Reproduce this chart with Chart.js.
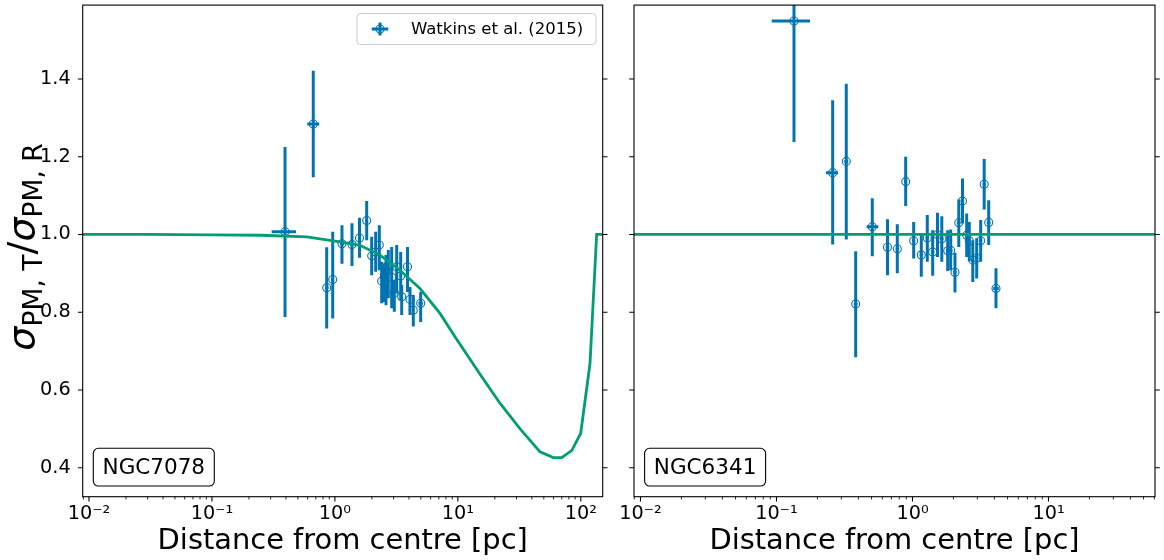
<!DOCTYPE html>
<html>
<head>
<meta charset="utf-8">
<script src="https://cdn.jsdelivr.net/npm/chart.js@4.4.1/dist/chart.umd.min.js"></script>
<style>
html,body{margin:0;padding:0;background:#ffffff;}
#wrap{position:relative;width:1164px;height:560px;overflow:hidden;background:#fff;}
#a{position:absolute;left:0;top:0;}
#b{position:absolute;left:620px;top:0;}
</style>
</head>
<body>
<div id="wrap">
<canvas id="a" width="620" height="560"></canvas>
<canvas id="b" width="544" height="560"></canvas>
</div>
<script>
const BLUE = '#0173b2', GREEN = '#029e73';
const FONT = '"DejaVu Sans", "Liberation Sans", sans-serif';

// ---- tick labels ----
const xMajorExp = [-2, -1, 0, 1, 2];
const xTickLabels = ['10\u207b\u00b2', '10\u207b\u00b9', '10\u2070', '10\u00b9', '10\u00b2'];
const yTicks = [0.4, 0.6, 0.8, 1.0, 1.2, 1.4];
const yTickLabels = ['0.4', '0.6', '0.8', '1.0', '1.2', '1.4'];
const xTitle = 'Distance from centre [pc]';
const legendLabel = 'Watkins et al. (2015)';

// ---- NGC7078 (left) : Watkins et al. (2015) points ----
const r7078   = [0.393,0.667,0.858,0.960,1.142,1.377,1.585,1.814,1.992,2.147,2.297,2.402,2.532,2.604,2.719,2.897,3.042,3.182,3.429,3.494,3.895,4.080,4.342,4.987];
const r7078Lo = [0.306,0.596,0.830,0.930,1.100,1.330,1.540,1.760,1.940,2.090,2.240,2.340,2.470,2.540,2.650,2.830,2.970,3.100,3.350,3.410,3.800,3.980,4.240,4.780];
const r7078Hi = [0.483,0.746,0.890,0.990,1.190,1.420,1.630,1.870,2.050,2.210,2.360,2.470,2.600,2.670,2.790,2.970,3.120,3.260,3.510,3.580,3.990,4.180,4.450,5.200];
const s7078   = [1.007,1.284,0.863,0.884,0.976,0.974,0.991,1.036,0.945,0.955,0.973,0.880,0.893,0.908,0.921,0.890,0.850,0.917,0.893,0.840,0.917,0.833,0.805,0.823];
const s7078Hi = [1.225,1.421,0.967,1.007,1.024,1.029,1.043,1.086,0.994,1.007,1.024,0.930,0.926,0.947,0.960,0.968,0.883,0.973,0.955,0.870,0.968,0.865,0.844,0.852];
const s7078Lo = [0.788,1.147,0.758,0.784,0.925,0.919,0.940,0.985,0.895,0.904,0.908,0.823,0.826,0.818,0.836,0.810,0.801,0.848,0.831,0.793,0.852,0.793,0.763,0.775];
// model curve NGC7078
const modelR7078 = [0.0085,0.03,0.1,0.25,0.59,1.1,1.6,2.33,3.38,4.92,7.16,9.48,15.2,22.0,32.1,46.6,59.8,69.9,84.3,99.8,118.8,134.6,152];
const modelS7078 = [1.0,1.0,0.999,0.998,0.994,0.981,0.972,0.947,0.908,0.861,0.797,0.737,0.640,0.566,0.500,0.441,0.426,0.426,0.444,0.488,0.668,1.0,1.0];

// ---- NGC6341 (right) ----
const r6341   = [0.1345,0.2589,0.3259,0.3823,0.5062,0.6548,0.7733,0.8913,1.0205,1.1606,1.2849,1.4077,1.5272,1.6425,1.815,1.9096,2.053,2.19,2.332,2.503,2.616,2.776,2.966,3.173,3.367,3.634,4.111];
const r6341Lo = [0.0922,0.2312,0.315,0.370,0.4603,0.635,0.750,0.865,0.990,1.125,1.245,1.365,1.480,1.590,1.760,1.850,1.990,2.120,2.260,2.430,2.540,2.690,2.880,3.080,3.270,3.520,3.920];
const r6341Hi = [0.1763,0.2833,0.337,0.395,0.5606,0.675,0.797,0.918,1.050,1.195,1.325,1.450,1.575,1.695,1.870,1.970,2.115,2.260,2.400,2.580,2.690,2.860,3.060,3.270,3.470,3.750,4.310];
const s6341   = [1.549,1.159,1.188,0.821,1.020,0.967,0.963,1.136,0.984,0.947,0.991,0.955,1.000,0.989,0.958,0.959,0.903,1.030,1.086,0.998,0.984,0.934,0.939,0.984,1.129,1.031,0.861];
const s6341Hi = [1.620,1.345,1.388,0.957,1.093,1.039,1.026,1.200,1.032,1.003,1.050,1.011,1.056,1.047,1.011,1.013,0.953,1.090,1.144,1.054,1.032,0.985,0.990,1.037,1.194,1.088,0.913];
const s6341Lo = [1.238,0.974,0.987,0.684,0.944,0.895,0.900,1.073,0.938,0.891,0.930,0.894,0.942,0.930,0.906,0.908,0.851,0.968,1.028,0.942,0.931,0.878,0.887,0.930,1.064,0.973,0.810];
const modelR6341 = [0.008, 70];
const modelS6341 = [1.0, 1.0];

// axis limits
const yMin = 0.3255, yMax = 1.590;
const xMin7078 = 0.00889, xMax7078 = 150.7;
const xMin6341 = 0.00896, xMax6341 = 60.7;

function logTicks(min, max) {
  const out = [];
  for (let e = -3; e <= 3; e++) {
    for (let m = 1; m <= 9; m++) {
      const v = m * Math.pow(10, e);
      if (v >= min * 0.999 && v <= max * 1.001) out.push({ value: v, major: m === 1 });
    }
  }
  return out;
}

function roundRect(ctx, x, y, w, h, r) {
  ctx.beginPath();
  ctx.moveTo(x + r, y);
  ctx.lineTo(x + w - r, y); ctx.arcTo(x + w, y, x + w, y + r, r);
  ctx.lineTo(x + w, y + h - r); ctx.arcTo(x + w, y + h, x + w - r, y + h, r);
  ctx.lineTo(x + r, y + h); ctx.arcTo(x, y + h, x, y + h - r, r);
  ctx.lineTo(x, y + r); ctx.arcTo(x, y, x + r, y, r);
  ctx.closePath();
}

function mplPlugin(cfg) {
  return {
    id: 'mpl' + cfg.name,
    beforeDatasetsDraw(chart) {
      const { ctx, chartArea: a } = chart;
      const xs = chart.scales.x, ys = chart.scales.y;
      ctx.save();
      ctx.beginPath(); ctx.rect(a.left, a.top, a.right - a.left, a.bottom - a.top); ctx.clip();
      ctx.strokeStyle = BLUE; ctx.lineWidth = 3; ctx.lineCap = 'butt';
      for (let i = 0; i < cfg.r.length; i++) {
        const px = xs.getPixelForValue(cfg.r[i]);
        const py = ys.getPixelForValue(cfg.s[i]);
        ctx.beginPath();
        ctx.moveTo(px, ys.getPixelForValue(cfg.sLo[i]));
        ctx.lineTo(px, ys.getPixelForValue(cfg.sHi[i]));
        ctx.moveTo(xs.getPixelForValue(cfg.rLo[i]), py);
        ctx.lineTo(xs.getPixelForValue(cfg.rHi[i]), py);
        ctx.stroke();
      }
      ctx.restore();
    },
    afterDraw(chart) {
      const { ctx, chartArea: a } = chart;
      const xs = chart.scales.x, ys = chart.scales.y;
      ctx.save();
      ctx.strokeStyle = '#000';
      ctx.lineWidth = 1.1;
      ctx.strokeRect(a.left, a.top, a.right - a.left, a.bottom - a.top);
      xs.ticks.forEach(t => {
        const px = xs.getPixelForValue(t.value);
        if (px < a.left - 0.5 || px > a.right + 0.5) return;
        ctx.lineWidth = t.major ? 1.1 : 0.85;
        const len = t.major ? 4.8 : 2.75;
        ctx.beginPath(); ctx.moveTo(px, a.bottom); ctx.lineTo(px, a.bottom + len); ctx.stroke();
      });
      ctx.lineWidth = 1.1;
      ys.ticks.forEach(t => {
        const py = ys.getPixelForValue(t.value);
        ctx.beginPath();
        ctx.moveTo(a.left, py); ctx.lineTo(a.left - 4.8, py);
        ctx.moveTo(a.right, py); ctx.lineTo(a.right + 4.8, py);
        ctx.stroke();
      });
      // cluster name box
      const bx = a.left + 10.6, by = a.bottom - 48.4, bw = 121, bh = 37.7;
      roundRect(ctx, bx, by, bw, bh, 5);
      ctx.fillStyle = '#fff'; ctx.fill();
      ctx.lineWidth = 1.1; ctx.strokeStyle = '#000'; ctx.stroke();
      ctx.fillStyle = '#000';
      ctx.font = `21.5px ${FONT}`;
      ctx.textAlign = 'center'; ctx.textBaseline = 'middle';
      ctx.fillText(cfg.name, bx + bw / 2, by + bh / 2 + 1);
      if (cfg.legend) {
        const lx = 357, ly = 13.5, lw = 239, lh = 31;
        roundRect(ctx, lx, ly, lw, lh, 3.5);
        ctx.fillStyle = 'rgba(255,255,255,0.8)'; ctx.fill();
        ctx.strokeStyle = '#cccccc'; ctx.lineWidth = 1; ctx.stroke();
        const cx = 380, cy = 29;
        ctx.strokeStyle = BLUE; ctx.lineWidth = 3;
        ctx.beginPath();
        ctx.moveTo(cx - 8.3, cy); ctx.lineTo(cx + 8.3, cy);
        ctx.moveTo(cx, cy - 6.5); ctx.lineTo(cx, cy + 6.5);
        ctx.stroke();
        ctx.lineWidth = 1.1;
        ctx.beginPath(); ctx.arc(cx, cy, 4, 0, Math.PI * 2); ctx.stroke();
        ctx.fillStyle = '#000';
        ctx.font = `16.5px ${FONT}`;
        ctx.textAlign = 'left'; ctx.textBaseline = 'middle';
        ctx.fillText(chart.data.datasets[0].label, 411, cy + 0.5);
      }
      if (cfg.ytitle) {
        const big = 38, small = 26.6;
        const parts = [
          { t: '\u03c3', f: `oblique ${big}px ${FONT}`, dy: 0 },
          { t: 'PM, T', f: `${small}px ${FONT}`, dy: 7.5 },
          { t: '/', f: `${big}px ${FONT}`, dy: 0 },
          { t: '\u03c3', f: `oblique ${big}px ${FONT}`, dy: 0 },
          { t: 'PM, R', f: `${small}px ${FONT}`, dy: 7.5 }
        ];
        let total = 0;
        parts.forEach(p => { ctx.font = p.f; p.w = ctx.measureText(p.t).width; total += p.w; });
        ctx.translate(34, (a.top + a.bottom) / 2 - 4);
        ctx.rotate(-Math.PI / 2);
        ctx.textAlign = 'left'; ctx.textBaseline = 'alphabetic';
        ctx.fillStyle = '#000';
        let x = -total / 2;
        parts.forEach(p => { ctx.font = p.f; ctx.fillText(p.t, x, p.dy); x += p.w; });
      }
      ctx.restore();
    }
  };
}

function makeChart(id, cfg) {
  const pts = cfg.r.map((x, i) => ({ x: x, y: cfg.s[i] }));
  const model = cfg.mr.map((x, i) => ({ x: x, y: cfg.ms[i] }));
  return new Chart(document.getElementById(id), {
    type: 'scatter',
    data: {
      datasets: [
        {
          label: legendLabel, data: pts, order: 2,
          pointStyle: 'circle', pointRadius: 4, pointHoverRadius: 4,
          borderColor: BLUE, backgroundColor: 'rgba(0,0,0,0)', borderWidth: 1.1
        },
        {
          type: 'line', label: 'model', data: model, order: 1,
          borderColor: GREEN, borderWidth: 2.8, pointRadius: 0, tension: 0, fill: false
        }
      ]
    },
    options: {
      responsive: false, animation: false, events: [],
      layout: { padding: { top: 4.7, right: cfg.padRight, left: 0, bottom: 0 } },
      plugins: { legend: { display: false }, tooltip: { enabled: false } },
      scales: {
        x: {
          type: 'logarithmic', min: cfg.xmin, max: cfg.xmax,
          afterBuildTicks: s => { s.ticks = logTicks(cfg.xmin, cfg.xmax); },
          afterFit: s => { s.height = 63.3; s.paddingLeft = 0; s.paddingRight = 0; },
          grid: { display: false, drawTicks: false },
          border: { display: false },
          ticks: {
            autoSkip: false, maxRotation: 0, minRotation: 0, padding: 6,
            color: '#000', font: { family: FONT, size: 19.25 },
            callback: v => {
              const e = Math.log10(v);
              const k = xMajorExp.indexOf(Math.round(e));
              return (Math.abs(e - Math.round(e)) < 1e-6 && k >= 0) ? xTickLabels[k] : '';
            }
          },
          title: {
            display: true, text: xTitle, color: '#000',
            font: { family: FONT, size: 28.9 }, padding: { top: 0, bottom: 1 }
          }
        },
        y: {
          type: 'linear', min: yMin, max: yMax,
          afterBuildTicks: s => { s.ticks = yTicks.map(v => ({ value: v })); },
          afterFit: s => { s.width = cfg.yWidth; s.paddingTop = 0; s.paddingBottom = 0; },
          grid: { display: false, drawTicks: false },
          border: { display: false },
          ticks: {
            display: cfg.yLabels, padding: 12, color: '#000',
            font: { family: FONT, size: 19.25 },
            callback: (v, i) => yTickLabels[i]
          }
        }
      }
    },
    plugins: [mplPlugin(cfg)]
  });
}

makeChart('a', {
  name: 'NGC7078', r: r7078, rLo: r7078Lo, rHi: r7078Hi, s: s7078, sLo: s7078Lo, sHi: s7078Hi,
  mr: modelR7078, ms: modelS7078, xmin: xMin7078, xmax: xMax7078,
  padRight: 17.3, yWidth: 82.7, yLabels: true, legend: true, ytitle: true
});
makeChart('b', {
  name: 'NGC6341', r: r6341, rLo: r6341Lo, rHi: r6341Hi, s: s6341, sLo: s6341Lo, sHi: s6341Hi,
  mr: modelR6341, ms: modelS6341, xmin: xMin6341, xmax: xMax6341,
  padRight: 9, yWidth: 14, yLabels: false, legend: false, ytitle: false
});
</script>
</body>
</html>
